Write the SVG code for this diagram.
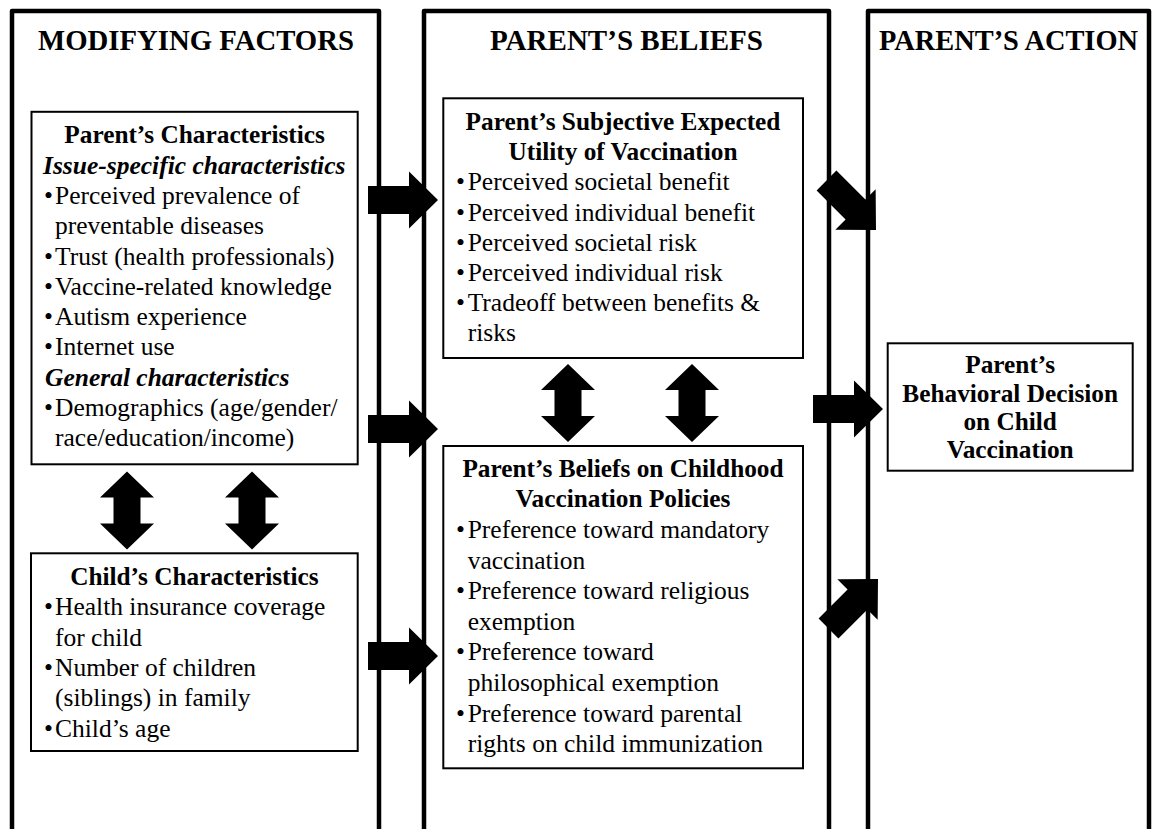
<svg xmlns="http://www.w3.org/2000/svg" xmlns:xlink="http://www.w3.org/1999/xlink" width="1152" height="829" viewBox="0 0 1152 829">
<style>
  .col { fill: none; stroke: #000; stroke-width: 4.5; stroke-linejoin: round; }
  .box { fill: #fff; stroke: #000; stroke-width: 2; }
  .title { font-family: "Liberation Serif", "Times New Roman", serif; font-weight: bold; font-size: 30px; fill: #000; text-anchor: middle; }
  .hd { font-family: "Liberation Serif", "Times New Roman", serif; font-weight: bold; font-size: 25.3px; fill: #000; text-anchor: middle; }
  .bd { font-family: "Liberation Serif", "Times New Roman", serif; font-size: 25.5px; fill: #000; }
  .it { font-family: "Liberation Serif", "Times New Roman", serif; font-size: 25.5px; font-weight: bold; font-style: italic; fill: #000; }
  .arrow { fill: #000; }
</style>
<defs>
  <path id="rarrow" d="M -70,-14 L -29,-14 L -29,-28.5 L 0,0 L -29,28.5 L -29,14 L -70,14 Z"/>
  <path id="darrow" d="M 0,-39 L 27,-13 L 13.5,-13 L 13.5,13 L 27,13 L 0,39 L -27,13 L -13.5,13 L -13.5,-13 L -27,-13 Z"/>
</defs>

<g id="col-modifying">
  <path class="col" d="M 12,840 L 12,11 L 379,11 L 379,840"/>
  <text class="title" x="196" y="50" textLength="316" lengthAdjust="spacingAndGlyphs">MODIFYING FACTORS</text>
</g>
<g id="col-beliefs">
  <path class="col" d="M 424,840 L 424,11 L 829,11 L 829,840"/>
  <text class="title" x="626.5" y="50" textLength="273" lengthAdjust="spacingAndGlyphs">PARENT’S BELIEFS</text>
</g>
<g id="col-action">
  <path class="col" d="M 868,840 L 868,11 L 1149,11 L 1149,840"/>
  <text class="title" x="1008.5" y="50" textLength="259" lengthAdjust="spacingAndGlyphs">PARENT’S ACTION</text>
</g>

<g id="connectors">
  <use class="arrow" xlink:href="#rarrow" transform="translate(438,200)"/>
  <use class="arrow" xlink:href="#rarrow" transform="translate(438,429)"/>
  <use class="arrow" xlink:href="#rarrow" transform="translate(438,656)"/>
  <use class="arrow" xlink:href="#rarrow" transform="translate(876,230) rotate(45)"/>
  <use class="arrow" xlink:href="#rarrow" transform="translate(883,409)"/>
  <use class="arrow" xlink:href="#rarrow" transform="translate(878,579) rotate(-45)"/>
  <use class="arrow" xlink:href="#darrow" transform="translate(127,510.5)"/>
  <use class="arrow" xlink:href="#darrow" transform="translate(252,510.5)"/>
  <use class="arrow" xlink:href="#darrow" transform="translate(568,403)"/>
  <use class="arrow" xlink:href="#darrow" transform="translate(692,403)"/>
</g>

<g id="parent-characteristics">
  <rect class="box" x="31.5" y="111.8" width="326.2" height="352.5"/>
  <text class="hd" x="194.6" y="143.3">Parent’s Characteristics</text>
  <text class="it" x="43" y="173.6">Issue-specific characteristics</text>
  <text class="bd" y="203.9"><tspan x="44">•</tspan><tspan x="55">Perceived prevalence of</tspan></text>
  <text class="bd" x="55" y="234.2">preventable diseases</text>
  <text class="bd" y="264.5"><tspan x="44">•</tspan><tspan x="55">Trust (health professionals)</tspan></text>
  <text class="bd" y="294.8"><tspan x="44">•</tspan><tspan x="55">Vaccine-related knowledge</tspan></text>
  <text class="bd" y="325.1"><tspan x="44">•</tspan><tspan x="55">Autism experience</tspan></text>
  <text class="bd" y="355.4"><tspan x="44">•</tspan><tspan x="55">Internet use</tspan></text>
  <text class="it" x="45" y="385.7">General characteristics</text>
  <text class="bd" y="416"><tspan x="44">•</tspan><tspan x="55">Demographics (age/gender/</tspan></text>
  <text class="bd" x="55" y="446.3">race/education/income)</text>
</g>

<g id="child-characteristics">
  <rect class="box" x="31" y="553.3" width="326.7" height="197.7"/>
  <text class="hd" x="194.4" y="585">Child’s Characteristics</text>
  <text class="bd" y="615.3"><tspan x="44">•</tspan><tspan x="55">Health insurance coverage</tspan></text>
  <text class="bd" x="55" y="645.6">for child</text>
  <text class="bd" y="675.9"><tspan x="44">•</tspan><tspan x="55">Number of children</tspan></text>
  <text class="bd" x="55" y="706.2">(siblings) in family</text>
  <text class="bd" y="736.5"><tspan x="44">•</tspan><tspan x="55">Child’s age</tspan></text>
</g>

<g id="subjective-utility">
  <rect class="box" x="443.3" y="98.3" width="359.7" height="259.7"/>
  <text class="hd" x="623" y="130">Parent’s Subjective Expected</text>
  <text class="hd" x="623" y="160.2">Utility of Vaccination</text>
  <text class="bd" y="190.4"><tspan x="456">•</tspan><tspan x="467.7">Perceived societal benefit</tspan></text>
  <text class="bd" y="220.6"><tspan x="456">•</tspan><tspan x="467.7">Perceived individual benefit</tspan></text>
  <text class="bd" y="250.8"><tspan x="456">•</tspan><tspan x="467.7">Perceived societal risk</tspan></text>
  <text class="bd" y="281"><tspan x="456">•</tspan><tspan x="467.7">Perceived individual risk</tspan></text>
  <text class="bd" y="311.2"><tspan x="456">•</tspan><tspan x="467.7">Tradeoff between benefits &amp;</tspan></text>
  <text class="bd" x="467.7" y="341.4">risks</text>
</g>

<g id="policy-beliefs">
  <rect class="box" x="443.3" y="446" width="359.7" height="322.3"/>
  <text class="hd" x="623" y="476.7">Parent’s Beliefs on Childhood</text>
  <text class="hd" x="623" y="507.3">Vaccination Policies</text>
  <text class="bd" y="537.9"><tspan x="456">•</tspan><tspan x="467.7">Preference toward mandatory</tspan></text>
  <text class="bd" x="467.7" y="568.5">vaccination</text>
  <text class="bd" y="599.1"><tspan x="456">•</tspan><tspan x="467.7">Preference toward religious</tspan></text>
  <text class="bd" x="467.7" y="629.7">exemption</text>
  <text class="bd" y="660.3"><tspan x="456">•</tspan><tspan x="467.7">Preference toward</tspan></text>
  <text class="bd" x="467.7" y="690.9">philosophical exemption</text>
  <text class="bd" y="721.5"><tspan x="456">•</tspan><tspan x="467.7">Preference toward parental</tspan></text>
  <text class="bd" x="467.7" y="752.1">rights on child immunization</text>
</g>

<g id="behavioral-decision">
  <rect class="box" x="887.7" y="343.3" width="245" height="127.4"/>
  <text class="hd" x="1010.2" y="373.3">Parent’s</text>
  <text class="hd" x="1010.2" y="401.6">Behavioral Decision</text>
  <text class="hd" x="1010.2" y="429.9">on Child</text>
  <text class="hd" x="1010.2" y="458.2">Vaccination</text>
</g>
</svg>
